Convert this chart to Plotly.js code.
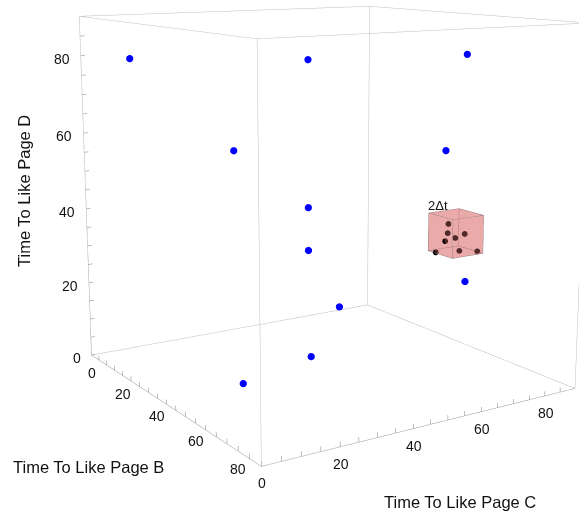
<!DOCTYPE html>
<html><head><meta charset="utf-8">
<script src="https://cdn.plot.ly/plotly-3.0.1.min.js"></script>
<style>
html,body{margin:0;padding:0;overflow:hidden;width:579px;height:513px;background:#fff}
#plot{position:absolute;left:-276px;top:-345px;width:1200px;height:1090px}
</style>
</head><body><div id="plot"></div>
<script>
// Blue points: (Time to like page B, C, D)
const pageB = [9, 27, 27, 27, 27, 33, 18, 42, 55, 47, 56];
const pageC = [9.5, 29.3, 51.7, 51.7, 51.7, 48.7, 67.7, 22.8, 82, 82, 82];
const pageD = [79.5, 56.5, 78.5, 39.2, 27.5, 0, 7.2, 0, 80.5, 54.6, 21];
// Black points inside the 2Δt cube
const clusterB = [56.4, 56.8, 58.6, 58.8, 59.9, 55.8, 59.1, 61.1];
const clusterC = [75.8, 75.3, 73.1, 76.2, 78.4, 72.3, 77.4, 81.7];
const clusterD = [37.3, 35.0, 33.5, 34.0, 35.0, 30.1, 30.5, 30.2];
const cubeCenter = [58, 77, 35];
const deltaT = 5;
const axisMax = 90;
const tickVals = [0,5,10,15,20,25,30,35,40,45,50,55,60,65,70,75,80,85];
const labelVals = [0,20,40,60,80];
const titleB = 'Time To Like Page B', titleC = 'Time To Like Page C', titleD = 'Time To Like Page D';
const cubeLabel = '2Δt';

// frame edges of the plot box
const fx=[], fy=[], fz=[];
const L=[0, axisMax];
function edge(a,b){fx.push(a[0],b[0],null);fy.push(a[1],b[1],null);fz.push(a[2],b[2],null);}
for(const p of L)for(const q of L){
  edge([0,p,q],[axisMax,p,q]); edge([p,0,q],[p,axisMax,q]); edge([p,q,0],[p,q,axisMax]);
}
// tick marks (pointing into the box)
const tl = 1.2;
const tx=[], ty=[], tz=[];
function tick(a,b){tx.push(a[0],b[0],null);ty.push(a[1],b[1],null);tz.push(a[2],b[2],null);}
for(const v of tickVals){
  tick([v,0,0],[v,0,tl]);              // B axis
  tick([axisMax,v,0],[axisMax,v,tl]);  // C axis
  tick([0,0,v],[0,tl,v]);              // D axis
}
// the 2Δt cube
const cv=[];
const s=[[-1,-1,-1],[1,-1,-1],[1,1,-1],[-1,1,-1],[-1,-1,1],[1,-1,1],[1,1,1],[-1,1,1]];
for(const v of s) cv.push([cubeCenter[0]+v[0]*deltaT, cubeCenter[1]+v[1]*deltaT, cubeCenter[2]+v[2]*deltaT]);
const cx=[],cy=[],cz=[];
const cubeEdges=[[0,1],[1,2],[2,3],[3,0],[4,5],[5,6],[6,7],[7,4],[0,4],[1,5],[2,6],[3,7]];
for(const e of cubeEdges){const a=cv[e[0]],b=cv[e[1]];cx.push(a[0],b[0],null);cy.push(a[1],b[1],null);cz.push(a[2],b[2],null);}

const font='Liberation Sans, Arial, Helvetica, sans-serif';
function axisCommon(){ return {
  range:[0,axisMax], autorange:false, showticklabels:false, ticks:'',
  showline:true, linecolor:'#8c8c8c', linewidth:1,
  showgrid:false, zeroline:false, showbackground:false, showspikes:false,
  title:{text:''}
};}
const tf={family:font, size:14, color:'#111'};
const sceneAnn=[];
for(const v of labelVals){
  sceneAnn.push({x:v, y:0, z:0, text:String(v), showarrow:false, xanchor:'center', yanchor:'middle', yshift:-18, font:tf});
  sceneAnn.push({x:axisMax, y:v, z:0, text:String(v), showarrow:false, xanchor:'center', yanchor:'middle', xshift:1, yshift:-17, font:tf});
  sceneAnn.push({x:0, y:0, z:v, text:String(v), showarrow:false, xanchor:'right', yanchor:'middle', xshift:-9, yshift:-3, font:tf});
}
sceneAnn.push({x:cubeCenter[0]-deltaT, y:cubeCenter[1]-deltaT, z:cubeCenter[2]+deltaT+2, text:cubeLabel, showarrow:false,
  xanchor:'left', yanchor:'middle', xshift:-3, font:{family:font, size:13, color:'#111'}});

const traces=[
  {type:'scatter3d', mode:'lines', x:fx, y:fy, z:fz, line:{color:'#bdbdbd', width:1}, hoverinfo:'skip'},
  {type:'scatter3d', mode:'lines', x:tx, y:ty, z:tz, line:{color:'#808080', width:1}, hoverinfo:'skip'},
  {type:'mesh3d', x:cv.map(v=>v[0]), y:cv.map(v=>v[1]), z:cv.map(v=>v[2]),
   i:[0,0,4,4,0,0,1,1,2,2,3,3], j:[1,2,5,6,1,5,2,6,3,7,0,4], k:[2,3,6,7,5,4,6,5,7,6,4,7],
   color:'rgb(222,112,112)', opacity:0.36, flatshading:true,
   lighting:{ambient:1, diffuse:0, specular:0, fresnel:0}, hoverinfo:'skip'},
  {type:'scatter3d', mode:'lines', x:cx, y:cy, z:cz, line:{color:'#937575', width:1}, hoverinfo:'skip'},
  {type:'scatter3d', mode:'markers', x:pageB, y:pageC, z:pageD, marker:{color:'#0000ff', size:4.2, line:{width:0}}},
  {type:'scatter3d', mode:'markers', x:clusterB, y:clusterC, z:clusterD, marker:{color:'#000000', size:3.4, line:{width:0}}}
];
const layout={
  width:1200, height:1090, margin:{l:0,r:0,t:0,b:0}, showlegend:false,
  paper_bgcolor:'#fff',
  scene:{
    domain:{x:[0,1],y:[0,1]}, aspectmode:'cube',
    camera:{eye:{x:3.02,y:-1.96,z:0.72}, center:{x:0,y:0,z:0}, up:{x:0,y:0,z:1}},
    xaxis:axisCommon(), yaxis:axisCommon(), zaxis:axisCommon(),
    annotations:sceneAnn
  },
  annotations:[
    {xref:'paper',yref:'paper',x:(89+276)/1200,y:1-(467+345)/1090,text:titleB,showarrow:false,xanchor:'center',yanchor:'middle',font:{family:font,size:16.5,color:'#111'}},
    {xref:'paper',yref:'paper',x:(460+276)/1200,y:1-(502+345)/1090,text:titleC,showarrow:false,xanchor:'center',yanchor:'middle',font:{family:font,size:16.5,color:'#111'}},
    {xref:'paper',yref:'paper',x:(24+276)/1200,y:1-(191+345)/1090,text:titleD,showarrow:false,textangle:-90,xanchor:'center',yanchor:'middle',font:{family:font,size:16.5,color:'#111'}}
  ]
};
Plotly.newPlot('plot', traces, layout, {displayModeBar:false});
</script>
</body></html>
